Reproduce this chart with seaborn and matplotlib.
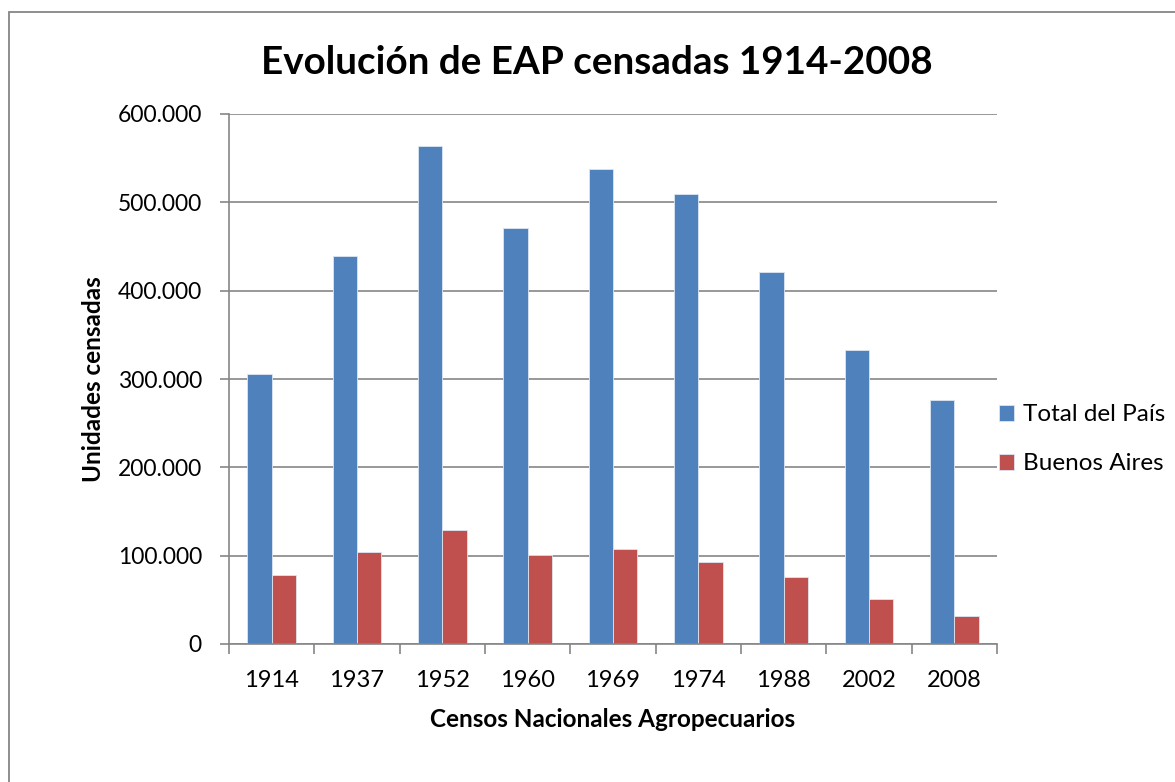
import pandas as pd
import matplotlib.pyplot as plt
import seaborn as sns
from matplotlib.patches import Rectangle
from matplotlib.ticker import FuncFormatter, FixedLocator

# data
censos = ["1914", "1937", "1952", "1960", "1969", "1974", "1988", "2002", "2008"]
total_pais = [305700, 439300, 564000, 470900, 538100, 509300, 420600, 332800, 276100]
buenos_aires = [77700, 104000, 129600, 100400, 107300, 92700, 75300, 50600, 31200]

series_names = ["Total del País", "Buenos Aires"]
colors = ["#4F81BD", "#C0504D"]

df = pd.DataFrame({
    "censo": censos * 2,
    "valor": total_pais + buenos_aires,
    "serie": [series_names[0]] * len(censos) + [series_names[1]] * len(censos),
})

sns.set_style("white")
plt.rcParams["font.family"] = ["Lato", "DejaVu Sans"]
plt.rcParams["text.color"] = "black"
plt.rcParams["axes.labelcolor"] = "black"

fig = plt.figure(figsize=(11.75, 7.82), dpi=100)
ax = fig.add_axes([229 / 1175, 1 - 644 / 782, (997 - 229) / 1175, (644 - 114) / 782])

sns.barplot(
    data=df,
    x="censo",
    y="valor",
    hue="serie",
    palette=colors,
    width=0.57,
    saturation=1,
    edgecolor="#dce6f2",
    linewidth=0.6,
    ax=ax,
)

ax.set_ylim(0, 600000)
ax.set_xlim(-0.5, len(censos) - 0.5)
ax.set_yticks(range(0, 600001, 100000))
ax.yaxis.set_major_formatter(
    FuncFormatter(lambda v, p: "0" if v == 0 else f"{int(v):,}".replace(",", "."))
)

grid_color = "#868686"
ax.yaxis.grid(True, color=grid_color, linewidth=1.2)
ax.set_axisbelow(True)
for side in ["top", "right"]:
    ax.spines[side].set_visible(False)
for side in ["left", "bottom"]:
    ax.spines[side].set_color(grid_color)
    ax.spines[side].set_linewidth(1.2)

# Excel-style ticks between categories
ax.xaxis.set_minor_locator(FixedLocator([i - 0.5 for i in range(len(censos) + 1)]))
ax.tick_params(axis="x", which="minor", length=7, width=1.2, color=grid_color,
               direction="out", bottom=True)
ax.tick_params(axis="x", which="major", length=0, labelsize=17, pad=19, labelcolor="black")
ax.tick_params(axis="y", which="major", length=6.5, width=1.2, color=grid_color,
               direction="out", labelsize=16.5, pad=13, left=True, labelcolor="black")

ax.set_xlabel("Censos Nacionales Agropecuarios", fontsize=17.5, fontweight="bold", labelpad=12)
ax.set_ylabel("Unidades censadas", fontsize=17.5, fontweight="bold", labelpad=9)

fig.suptitle("Evolución de EAP censadas 1914-2008", fontsize=27.8, fontweight="bold",
             x=597 / 1175, y=1 - 62 / 782, va="center")

handles, labels = ax.get_legend_handles_labels()
ax.legend(
    handles, labels,
    loc="center left",
    bbox_to_anchor=(1.0, 0.386),
    borderaxespad=0,
    borderpad=0.1,
    frameon=False,
    fontsize=17.5,
    handlelength=0.6,
    handleheight=0.6,
    handletextpad=0.35,
    labelspacing=1.15,
)

# outer chart border
fig.patches.append(Rectangle((9 / 1175, -0.1), 1.2, 1 - 12 / 782 + 0.1,
                             transform=fig.transFigure, fill=False,
                             edgecolor="#868686", linewidth=1.3))

plt.savefig("out.png", dpi=100)
plt.close()
